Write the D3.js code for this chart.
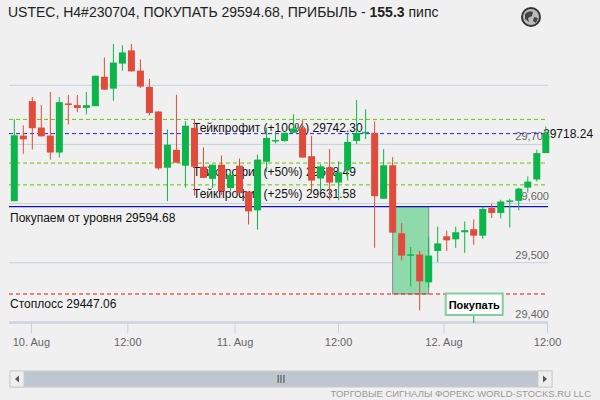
<!DOCTYPE html>
<html>
<head>
<meta charset="utf-8">
<script src="https://cdn.jsdelivr.net/npm/d3@7"></script>
<style>
  body { margin: 0; background: #f0f0f0; }
  svg { font-family: "Liberation Sans", Arial, sans-serif; }
</style>
</head>
<body>
<svg id="chart" width="600" height="400"></svg>
<script>
// candle data, H4 bars
const opens  = [29604.0,29714.9,29773.2,29728.6,29714.9,29686.3,29769.3,29766.4,29761.7,29764.7,
                29814.4,29794.3,29836.7,29859.0,29824.7,29797.2,29755.6,29660.6,29690.9,29664.0,
                29728.1,29662.3,29641.7,29665.7,29626.3,29664.0,29620.1,29588.5,29670.8,29706.3,
                29705.8,29719.6,29726.9,29680.1,29642.4,29661.2,29635.5,29656.1,29705.8,29720.4,
                29719.6,29608.1,29664.7,29549.8,29512.9,29513.8,29466.8,29519.9,29544.6,29539.5,
                29551.5,29556.6,29545.7,29592.6,29584.1,29604.0,29604.6,29626.9,29640.7,29685.3];
const highs  = [29742.4,29732.1,29780.1,29766.4,29788.7,29780.1,29783.5,29783.5,29788.7,29816.1,
                29847.0,29869.8,29867.6,29869.8,29843.5,29811.0,29756.1,29725.2,29784.0,29739.4,
                29742.9,29694.9,29665.7,29681.1,29655.4,29676.0,29620.1,29682.9,29728.1,29721.8,
                29719.7,29750.9,29742.4,29714.4,29666.4,29692.1,29671.5,29717.8,29774.9,29759.5,
                29738.9,29692.1,29678.4,29566.9,29526.8,29519.9,29543.9,29561.1,29554.2,29561.1,
                29569.7,29573.1,29594.4,29599.5,29606.4,29608.1,29626.9,29645.8,29690.9,29730.4];
const lows   = [29604.0,29684.1,29691.4,29713.2,29674.3,29677.7,29733.8,29754.4,29750.9,29764.7,
                29792.6,29773.7,29824.7,29823.0,29795.5,29749.2,29657.1,29604.0,29669.1,29626.9,
                29613.7,29643.4,29626.3,29614.3,29621.1,29617.7,29564.5,29555.9,29653.7,29701.7,
                29704.6,29719.6,29677.7,29622.8,29621.1,29605.7,29605.7,29638.9,29700.7,29709.3,
                29525.1,29608.1,29550.8,29504.0,29459.9,29419.4,29458.2,29501.1,29519.9,29525.1,
                29516.5,29530.2,29540.5,29575.5,29574.8,29559.4,29588.5,29618.4,29637.2,29685.3];
const closes = [29715.4,29708.6,29727.4,29713.7,29686.3,29771.5,29768.1,29761.7,29766.4,29816.1,
                29792.6,29838.4,29855.6,29823.5,29797.8,29753.2,29659.5,29699.5,29669.1,29731.6,
                29662.3,29643.4,29665.7,29621.1,29648.5,29617.7,29586.8,29674.3,29711.0,29707.5,
                29719.7,29726.9,29677.7,29638.9,29663.0,29635.5,29652.7,29704.1,29719.6,29721.3,
                29612.5,29664.7,29550.8,29512.0,29514.3,29468.5,29512.0,29532.6,29537.8,29551.5,
                29554.9,29545.7,29590.9,29584.1,29603.4,29605.2,29625.2,29637.2,29685.3,29718.24];

const entry = 29594.68, stopLoss = 29447.06, lastPrice = 29718.24;
const takeProfits = [29742.30, 29668.49, 29631.58];
const tpLabels = ["Тейкпрофит (+100%) 29742.30", "Тейкпрофит (+50%) 29668.49", "Тейкпрофит (+25%) 29631.58"];
const yTicks = [29400, 29500, 29600, 29700];
const gridLevels = [29400, 29500, 29600, 29700, 29800];
const xTickIdx = [1.9, 12.6, 24.5, 36.0, 47.7, 59.2];
const xTickLabels = ["10. Aug", "12:00", "11. Aug", "12:00", "12. Aug", "12:00"];
const zoneBars = [42, 46];
const signalBar = 51;

const svg = d3.select("#chart");
const green = "#0cb54a", red = "#e04b3c";

const x = d3.scaleLinear().domain([0, 59]).range([14.3, 545.8]);
const y = d3.scaleLinear().domain([entry, stopLoss]).range([206.7, 294]);
const left = 9, right = 548;

// grid
svg.selectAll(".grid").data(gridLevels).join("line")
  .attr("x1", left).attr("x2", right)
  .attr("y1", d => y(d)).attr("y2", d => y(d))
  .attr("stroke", "#c4d0df").attr("stroke-width", 1);

// y labels
svg.selectAll(".ylab").data(yTicks).join("text")
  .attr("x", 549).attr("y", d => y(d) - 4)
  .attr("text-anchor", "end").attr("font-size", 11).attr("fill", "#666")
  .text(d => d3.format(",")(d));

// x axis
svg.append("line").attr("x1", left).attr("x2", right).attr("y1", 323).attr("y2", 323)
  .attr("stroke", "#c4d0df").attr("stroke-width", 1.5);
svg.selectAll(".xt").data(xTickIdx).join("line")
  .attr("x1", d => x(d)).attr("x2", d => x(d)).attr("y1", 323).attr("y2", 333)
  .attr("stroke", "#c4d0df");
svg.selectAll(".xl").data(xTickIdx).join("text")
  .attr("x", d => x(d)).attr("y", 346).attr("text-anchor", "middle")
  .attr("font-size", 11).attr("fill", "#666")
  .text((d, i) => xTickLabels[i]);

// entry zone
svg.append("rect")
  .attr("x", x(zoneBars[0])).attr("width", x(zoneBars[1]) - x(zoneBars[0]))
  .attr("y", y(entry)).attr("height", y(stopLoss) - y(entry))
  .attr("fill", "#8fdaab").attr("stroke", "#8a8a8a").attr("stroke-width", 1);

// level lines
svg.selectAll(".tp").data(takeProfits).join("line")
  .attr("x1", left).attr("x2", right).attr("y1", d => y(d)).attr("y2", d => y(d))
  .attr("stroke", "#66c400").attr("stroke-dasharray", "4,3");
svg.append("line").attr("x1", left).attr("x2", right).attr("y1", y(lastPrice)).attr("y2", y(lastPrice))
  .attr("stroke", "#2222ff").attr("stroke-dasharray", "4,3");
svg.append("line").attr("x1", left).attr("x2", right).attr("y1", y(entry)).attr("y2", y(entry))
  .attr("stroke", "#1010cc").attr("stroke-width", 1.3);
svg.append("line").attr("x1", left).attr("x2", right).attr("y1", y(stopLoss)).attr("y2", y(stopLoss))
  .attr("stroke", "#ee1010").attr("stroke-dasharray", "4,3");

// level labels
svg.selectAll(".tpl").data(takeProfits).join("text")
  .attr("x", 193).attr("y", d => y(d) + 13).attr("font-size", 12).attr("fill", "#111")
  .text((d, i) => tpLabels[i]);
svg.append("text").attr("x", 10).attr("y", y(entry) + 15).attr("font-size", 12).attr("fill", "#111")
  .text("Покупаем от уровня " + entry.toFixed(2));
svg.append("text").attr("x", 10).attr("y", y(stopLoss) + 14).attr("font-size", 12).attr("fill", "#111")
  .text("Стоплосс " + stopLoss.toFixed(2));
svg.append("text").attr("x", 543).attr("y", y(lastPrice) + 4).attr("font-size", 12).attr("fill", "#111")
  .text(lastPrice.toFixed(2));

// candles
const idx = d3.range(opens.length);
const col = i => closes[i] >= opens[i] ? green : red;
svg.selectAll(".wick").data(idx).join("line")
  .attr("x1", i => x(i)).attr("x2", i => x(i))
  .attr("y1", i => y(highs[i])).attr("y2", i => y(lows[i]))
  .attr("stroke", col).attr("stroke-width", 1);
svg.selectAll(".body").data(idx).join("rect")
  .attr("x", i => x(i) - 3.5).attr("width", 7)
  .attr("y", i => y(Math.max(opens[i], closes[i])))
  .attr("height", i => Math.max(1.5, Math.abs(y(opens[i]) - y(closes[i]))))
  .attr("fill", col);

// signal flag
const fx = x(signalBar);
svg.append("line").attr("x1", fx).attr("x2", fx).attr("y1", 315).attr("y2", 323).attr("stroke", green);
svg.append("rect").attr("x", fx - 28).attr("y", 293.5).attr("width", 57).attr("height", 21.5)
  .attr("fill", "#fff").attr("stroke", "#80cf9c").attr("stroke-width", 2);
svg.append("text").attr("x", fx + 0.5).attr("y", 308.5).attr("text-anchor", "middle")
  .attr("font-size", 11).attr("font-weight", "bold").attr("fill", "#000").text("Покупать");

// title
const title = svg.append("text").attr("x", 8).attr("y", 17).attr("font-size", 14).attr("fill", "#222");
title.append("tspan").text("USTEC, H4#230704, ПОКУПАТЬ 29594.68, ПРИБЫЛЬ - ");
title.append("tspan").attr("font-weight", "bold").text("155.3");
title.append("tspan").text(" пипс");

// globe icon
const g = svg.append("g").attr("transform", "translate(531,17)");
g.append("circle").attr("r", 10).attr("fill", "#333");
g.append("circle").attr("r", 8).attr("fill", "#bbb");
g.append("path").attr("d", "M-6,-3 Q-2,-7 2,-5 L1,-1 L-3,1 L-2,5 L-6,2 Z M3,0 L7,1 L5,6 L2,4 Z").attr("fill", "#444");

// scrollbar
svg.append("rect").attr("x", 10).attr("y", 371).attr("width", 542).attr("height", 16)
  .attr("fill", "#bec6cf").attr("stroke", "#ccc");
svg.append("rect").attr("x", 10).attr("y", 371).attr("width", 14).attr("height", 16).attr("fill", "#eee").attr("stroke", "#ccc");
svg.append("rect").attr("x", 538).attr("y", 371).attr("width", 14).attr("height", 16).attr("fill", "#eee").attr("stroke", "#ccc");
svg.append("path").attr("d", "M19,375.5 L15,379 L19,382.5 Z M543,375.5 L547,379 L543,382.5 Z").attr("fill", "#555");
svg.append("text").attr("x", 281).attr("y", 383).attr("text-anchor", "middle").attr("font-size", 10).attr("fill", "#444").text("III");

// footer
svg.append("text").attr("x", 591).attr("y", 397).attr("text-anchor", "end").attr("font-size", 9.5)
  .attr("fill", "#999").text("ТОРГОВЫЕ СИГНАЛЫ ФОРЕКС WORLD-STOCKS.RU LLC");
</script>
</body>
</html>
